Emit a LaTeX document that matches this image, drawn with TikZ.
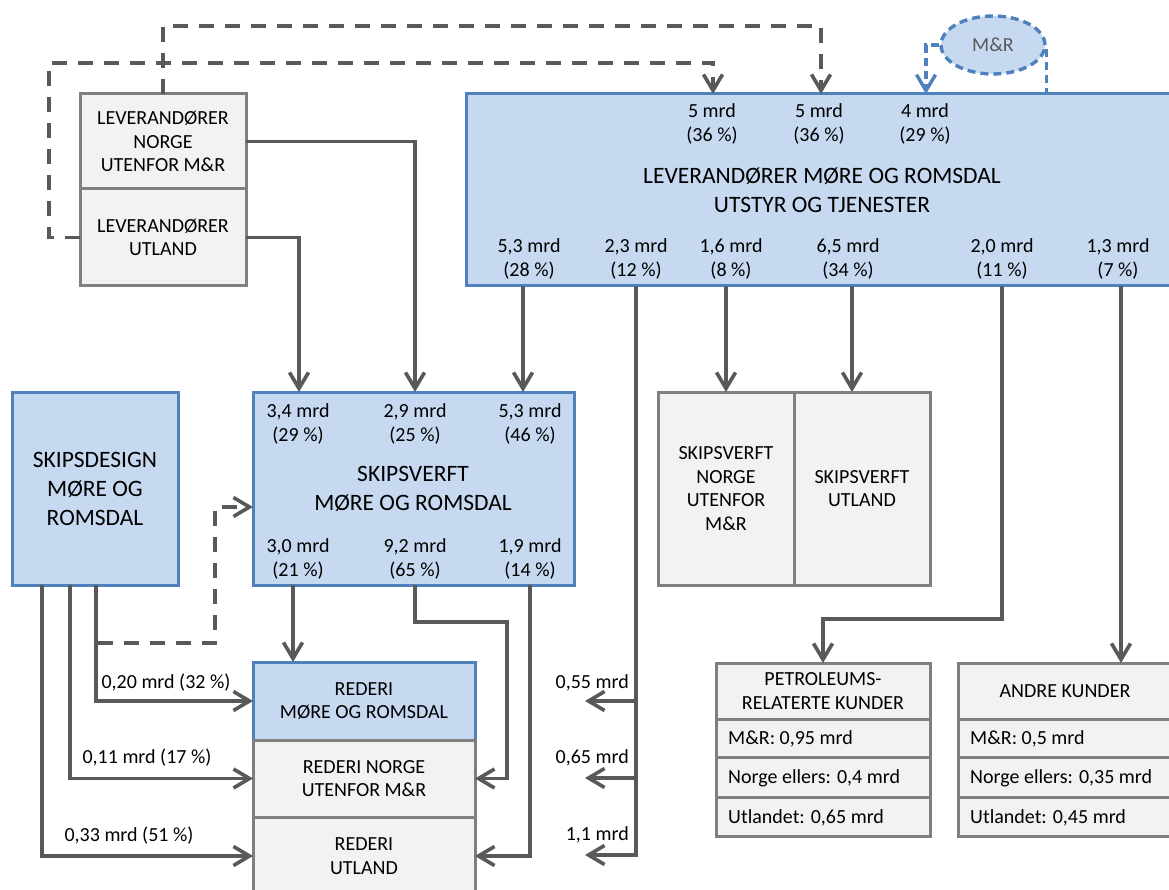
\documentclass[tikz,border=0pt]{standalone}
\usepackage{fontspec}
\setmainfont{Carlito}
\usetikzlibrary{arrows.meta,calc,shapes.geometric}
\definecolor{bluefill}{HTML}{C6D9F1}
\definecolor{blueline}{HTML}{4F81BD}
\definecolor{grayfill}{HTML}{F2F2F2}
\definecolor{grayline}{HTML}{7F7F7F}
\definecolor{conn}{HTML}{595959}
\begin{document}
\begin{tikzpicture}[x=1pt,y=-1pt,
  boxbase/.style={rectangle,line width=3pt,inner sep=0pt,outer sep=0pt,anchor=north west,align=center,font=\fontsize{20}{23.5}\selectfont},
  bluebox/.style={boxbase,draw=blueline,fill=bluefill},
  graybox/.style={boxbase,draw=grayline,fill=grayfill},
  bigtxt/.style={font=\fontsize{23.5}{29}\selectfont},
  txt/.style={font=\fontsize{20}{23.5}\selectfont,align=center,inner sep=0pt},
  rowtxt/.style={font=\fontsize{20}{23.5}\selectfont,anchor=west,inner sep=0pt},
  conline/.style={draw=conn,line width=3.6pt},
  arr/.style={conline,-{Straight Barb[length=16pt,width=19pt]}},
  darr/.style={arr,dash pattern=on 15pt off 11pt},
  bline/.style={draw=blueline,line width=3.4pt,dash pattern=on 8pt off 5pt},
  barr/.style={bline,-{Straight Barb[length=16pt,width=19pt]}}
]
\useasboundingbox (0,0) rectangle (1169,890);
\fill[white] (0,0) rectangle (1169,890);

% ---------- boxes ----------
\node[graybox,minimum width=166pt,minimum height=95pt] (levn) at (80,94) {LEVERANDØRER\\NORGE\\UTENFOR M\&R};
\node[graybox,minimum width=166pt,minimum height=97pt] (levu) at (80,189) {LEVERANDØRER\\UTLAND};

\node[bluebox,minimum width=706pt,minimum height=192pt] (lmr) at (466,94) {};
\node[txt] (l1) at (712,124) {5 mrd\\(36 \%)};
\node[txt] (l2) at (819,124) {5 mrd\\(36 \%)};
\node[txt] (l3) at (925,124) {4 mrd\\(29 \%)};
\node[txt,bigtxt] (lt) at (822,190) {LEVERANDØRER MØRE OG ROMSDAL\\UTSTYR OG TJENESTER};
\node[txt] (b1) at (529,259) {5,3 mrd\\(28 \%)};
\node[txt] (b2) at (636,259) {2,3 mrd\\(12 \%)};
\node[txt] (b3) at (731,259) {1,6 mrd\\(8 \%)};
\node[txt] (b4) at (848,259) {6,5 mrd\\(34 \%)};
\node[txt] (b5) at (1002,259) {2,0 mrd\\(11 \%)};
\node[txt] (b6) at (1118,259) {1,3 mrd\\(7 \%)};

\node[ellipse,draw=blueline,fill=bluefill,line width=3.4pt,dash pattern=on 8pt off 5pt,
      minimum width=104pt,minimum height=58pt,inner sep=0pt,text=conn,
      font=\fontsize{20}{23.5}\selectfont] (mr) at (993,45) {M\&R};

\node[bluebox,bigtxt,minimum width=166pt,minimum height=193pt] (sd) at (12,392) {SKIPSDESIGN\\MØRE OG\\ROMSDAL};

\node[bluebox,minimum width=321pt,minimum height=193pt] (svm) at (253,392) {};
\node[txt] (s1) at (298,424) {3,4 mrd\\(29 \%)};
\node[txt] (s2) at (415,424) {2,9 mrd\\(25 \%)};
\node[txt] (s3) at (530,424) {5,3 mrd\\(46 \%)};
\node[txt,bigtxt] (st) at (413,489) {SKIPSVERFT\\MØRE OG ROMSDAL};
\node[txt] (s4) at (298,559) {3,0 mrd\\(21 \%)};
\node[txt] (s5) at (415,559) {9,2 mrd\\(65 \%)};
\node[txt] (s6) at (530,559) {1,9 mrd\\(14 \%)};

\node[graybox,minimum width=136pt,minimum height=193pt] (svn) at (658,392) {SKIPSVERFT\\NORGE\\UTENFOR\\M\&R};
\node[graybox,minimum width=136pt,minimum height=193pt] (svu) at (794,392) {SKIPSVERFT\\UTLAND};

\node[bluebox,minimum width=222pt,minimum height=78pt] (rm) at (253,662) {REDERI\\MØRE OG ROMSDAL};
\node[graybox,minimum width=222pt,minimum height=77pt] (rn) at (253,740) {REDERI NORGE\\UTENFOR M\&R};
\node[graybox,minimum width=222pt,minimum height=78pt] (ru) at (253,817) {REDERI\\UTLAND};

\node[graybox,minimum width=214pt,minimum height=56pt] (pk) at (716,663) {PETROLEUMS-\\RELATERTE KUNDER};
\node[graybox,minimum width=214pt,minimum height=38pt] (pk1) at (716,719) {};
\node[graybox,minimum width=214pt,minimum height=40pt] (pk2) at (716,757) {};
\node[graybox,minimum width=214pt,minimum height=39pt] (pk3) at (716,797) {};
\node[rowtxt] (pk1t) at ($(pk1.west)+(12,1)$) {M\&R: 0,95 mrd};
\node[rowtxt] (pk2t) at ($(pk2.west)+(12,1)$) {Norge ellers: 0,4 mrd};
\node[rowtxt] (pk3t) at ($(pk3.west)+(12,1)$) {Utlandet: 0,65 mrd};

\node[graybox,minimum width=214pt,minimum height=56pt] (ak) at (958,663) {ANDRE KUNDER};
\node[graybox,minimum width=214pt,minimum height=38pt] (ak1) at (958,719) {};
\node[graybox,minimum width=214pt,minimum height=40pt] (ak2) at (958,757) {};
\node[graybox,minimum width=214pt,minimum height=39pt] (ak3) at (958,797) {};
\node[rowtxt] (ak1t) at ($(ak1.west)+(12,1)$) {M\&R: 0,5 mrd};
\node[rowtxt] (ak2t) at ($(ak2.west)+(12,1)$) {Norge ellers: 0,35 mrd};
\node[rowtxt] (ak3t) at ($(ak3.west)+(12,1)$) {Utlandet: 0,45 mrd};

% ---------- connectors ----------
\coordinate (d1) at (163,26);
\coordinate (d2) at (49,63);
\draw[darr] (levn.north) -- (d1) -| ($(lmr.north west)+(355,0)$);
\draw[darr] (levu.west) -| (d2) -| ($(lmr.north west)+(247,0)$);

\draw[barr] (mr.west) -| ($(lmr.north west)+(460,0)$);
\draw[bline] ($(mr.east)+(0,4)$) -- (mr.east |- lmr.north);

\draw[arr] (levn.east) -| ($(svm.north west)+(162,0)$);
\draw[arr] (levu.east) -| ($(svm.north west)+(46,0)$);
\draw[arr] ($(lmr.south west)+(57,0)$) -- ($(svm.north west)+(270,0)$);

\coordinate (t1) at (585,701);
\coordinate (t2) at (585,778);
\coordinate (t3) at (585,855);
\draw[arr] ($(lmr.south west)+(170,0)$) |- (t3);
\draw[arr] (t1 -| b2) -- (t1);
\draw[arr] (t2 -| b2) -- (t2);
\node[txt,anchor=east] (v1) at (629,683) {0,55 mrd};
\node[txt,anchor=east] (v2) at (629,758) {0,65 mrd};
\node[txt,anchor=east] (v3) at (629,835) {1,1 mrd};

\draw[arr] (svn.north |- lmr.south) -- (svn.north);
\draw[arr] ($(lmr.south west)+(386,0)$) -- ($(svu.north west)+(58,0)$);
\draw[arr] ($(lmr.south west)+(536,0)$) -- ++(0,333) -| (pk.north);
\draw[arr] ($(lmr.south west)+(655,0)$) -- ($(ak.north west)+(163,0)$);

\draw[arr] ($(sd.south west)+(30,0)$) |- (ru.west);
\draw[arr] ($(sd.south west)+(58,0)$) |- (rn.west);
\draw[arr] ($(sd.south west)+(84,0)$) |- (rm.west);
\draw[darr] ($(sd.south west)+(86,58)$) -| ($(svm.south west)+(-38,-78)$) -- ($(svm.south west)+(0,-78)$);
\node[txt] (w1) at (166,683) {0,20 mrd (32 \%)};
\node[txt] (w2) at (147,758) {0,11 mrd (17 \%)};
\node[txt] (w3) at (129,836) {0,33 mrd (51 \%)};

\draw[arr] ($(svm.south west)+(40,0)$) -- ($(rm.north west)+(40,0)$);
\draw[arr] ($(svm.south west)+(162,0)$) |- ($(svm.south west)+(254,37)$) |- (rn.east);
\draw[arr] ($(svm.south west)+(277,0)$) |- (ru.east);
\end{tikzpicture}
\end{document}
